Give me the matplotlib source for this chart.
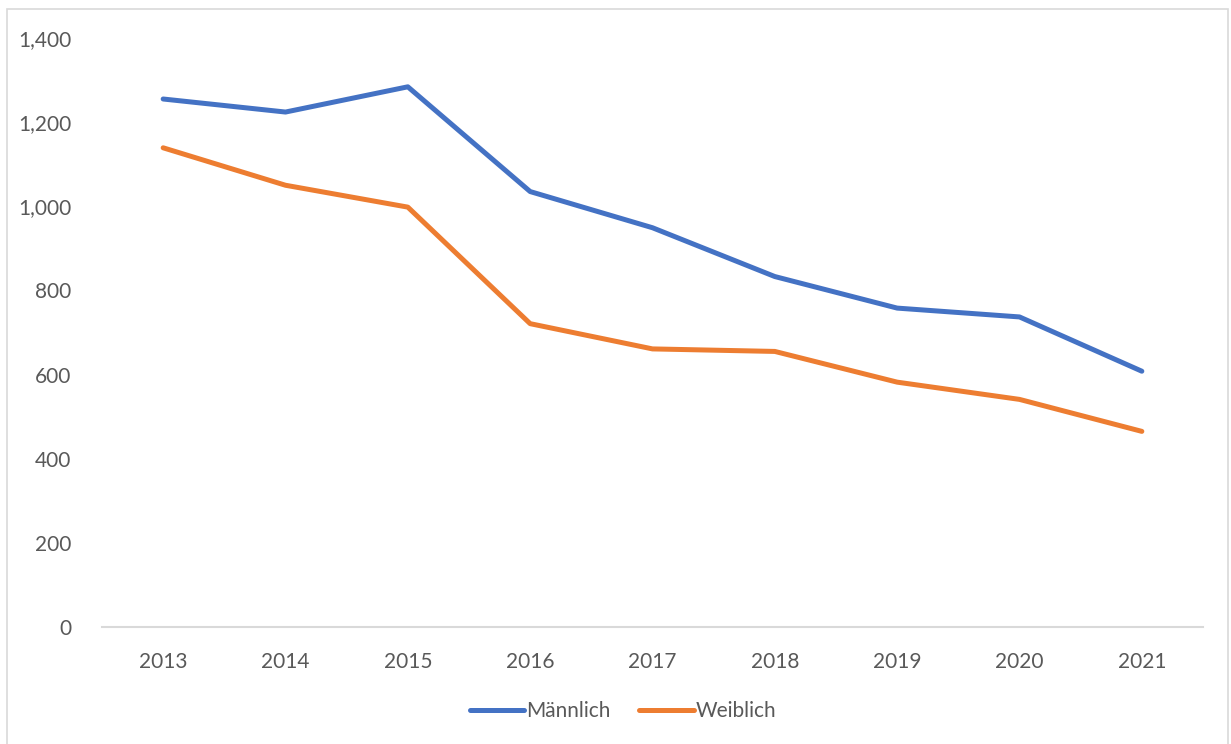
import matplotlib.pyplot as plt
from matplotlib.patches import Rectangle

years = ["2013", "2014", "2015", "2016", "2017", "2018", "2019", "2020", "2021"]
maennlich = [1255, 1224, 1284, 1035, 949, 833, 758, 737, 608]
weiblich = [1139, 1050, 998, 721, 661, 655, 582, 541, 465]

plt.rcParams['font.family'] = ['Lato', 'DejaVu Sans']

fig = plt.figure(figsize=(12.31, 7.44), dpi=100)
ax = fig.add_axes([102/1231, 1 - 627/744, 1101/1231, 589/744])

x = range(len(years))
ax.plot(x, maennlich, color="#4472C4", lw=3.6, label="Männlich", solid_capstyle="round")
ax.plot(x, weiblich, color="#ED7D31", lw=3.6, label="Weiblich", solid_capstyle="round")

ax.set_xlim(-0.5, len(years) - 0.5)
ax.set_ylim(0, 1400)
ax.set_xticks(list(x))
ax.set_xticklabels(years)
ax.set_yticks(range(0, 1401, 200))
ax.set_yticklabels([f"{v:,}" for v in range(0, 1401, 200)])
ax.tick_params(length=0, labelsize=15, colors="#595959")
ax.tick_params(axis="x", pad=18)
ax.tick_params(axis="y", pad=22)

for s in ["top", "right", "left"]:
    ax.spines[s].set_visible(False)
ax.spines["bottom"].set_color("#D9D9D9")
ax.spines["bottom"].set_linewidth(1.5)

fig.legend(loc="center", bbox_to_anchor=(623/1231, 1 - 711/744), ncol=2, frameon=False,
           fontsize=15, labelcolor="#595959", handlelength=2.6, handletextpad=0.1,
           columnspacing=1.4)

# chart border
fig.patches.append(Rectangle((7/1231, -0.05), 1221/1231, 1.05 - 9/744,
                             transform=fig.transFigure, fill=False,
                             edgecolor="#D9D9D9", lw=1.2))

fig.savefig("out.png", dpi=100)
